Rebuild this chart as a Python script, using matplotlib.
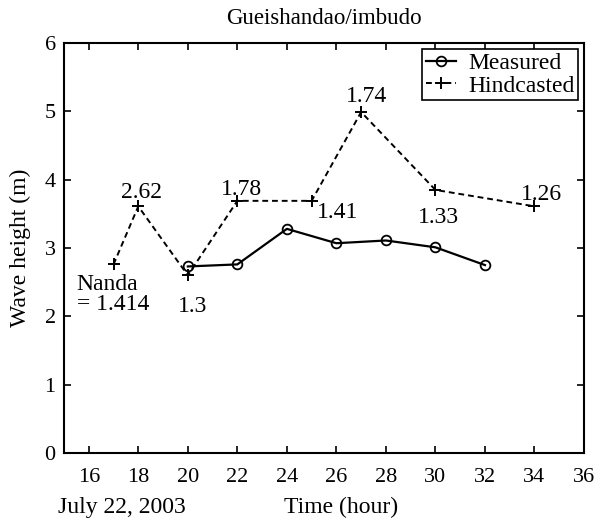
import matplotlib
matplotlib.use('Agg')
import matplotlib.pyplot as plt

plt.rcParams['font.family'] = 'Liberation Serif'

# Measured wave heights (m)
t_meas = [20, 22, 24, 26, 28, 30, 32]
h_meas = [2.73, 2.76, 3.28, 3.07, 3.11, 3.01, 2.75]

# Hindcasted wave heights (m)
t_hind = [17, 18, 20, 22, 25, 27, 30, 34]
h_hind = [2.76, 3.61, 2.60, 3.69, 3.69, 4.99, 3.85, 3.61]

# labels next to hindcast points (offsets in pixels)
hind_labels = ['Nanda\n= 1.414', '2.62', '1.3', '1.78', '1.41', '1.74', '1.33', '1.26']
label_offsets = [(-37, -30), (3, 14), (5, -31), (4, 11), (26, -12), (5, 16), (3, -28), (7, 12)]
label_ha = ['left', 'center', 'center', 'center', 'center', 'center', 'center', 'center']

xticks = [16, 18, 20, 22, 24, 26, 28, 30, 32, 34, 36]
yticks = [0, 1, 2, 3, 4, 5, 6]

fig = plt.figure(figsize=(5.99, 5.21), dpi=100)
ax = fig.add_axes([64/599, 1 - 453/521, 520/599, 410/521])

ax.plot(t_meas, h_meas, '-o', color='black', lw=1.6, ms=7, mfc='none', mew=1.3, label='Measured')
ax.plot(t_hind, h_hind, '--+', color='black', lw=1.4, ms=9, mew=1.4, label='Hindcasted',
        dashes=(3, 2))

for x, y, s, off, ha in zip(t_hind, h_hind, hind_labels, label_offsets, label_ha):
    ax.annotate(s, (x, y), xytext=off, textcoords='offset pixels', ha=ha, va='center',
                fontsize=17, linespacing=0.95)

ax.set_xlim(15, 36)
ax.set_ylim(0, 6)
ax.set_xticks(xticks)
ax.set_yticks(yticks)
ax.tick_params(direction='in', top=True, right=True, length=5, width=1.2, labelsize=16, pad=6)
ax.tick_params(axis='x', pad=11)
for s in ax.spines.values():
    s.set_linewidth(1.5)

ax.set_ylabel('Wave height (m)', fontsize=17, labelpad=10)
ax.set_title('Gueishandao/imbudo', fontsize=16.5, pad=14)
fig.text(58/599, 1 - 507/521, 'July 22, 2003', fontsize=17, va='center', ha='left')
fig.text(341/599, 1 - 507/521, 'Time (hour)', fontsize=17, va='center', ha='center')

leg = ax.legend(loc='upper right', fontsize=17, fancybox=False, edgecolor='black',
                framealpha=1, handlelength=1.3, borderpad=0.15, labelspacing=0.05,
                handletextpad=0.5, borderaxespad=0.25)
leg.get_frame().set_linewidth(1.2)

fig.savefig('out.png', dpi=100)
